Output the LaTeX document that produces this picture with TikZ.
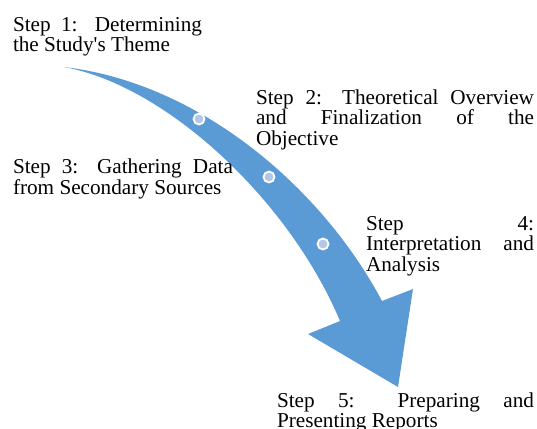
\documentclass[tikz,border=0pt]{standalone}
\usepackage{fontspec}
\newfontfamily\stepfont{Liberation Serif}[Ligatures=TeXOff]
\definecolor{arrowblue}{HTML}{5B9BD5}
\definecolor{dotfill}{HTML}{B4C7E7}
\tikzset{
  steptext/.style={anchor=base west, inner sep=0pt, outer sep=0pt, font=\stepfont\fontsize{21.2}{20.7}\selectfont},
  stepdot/.style={circle, fill=dotfill, draw=white, line width=1.8pt, minimum size=11pt, inner sep=0pt},
}
\newcommand{\jline}[2]{\makebox[#1][s]{#2}}
\begin{document}
\begin{tikzpicture}[x=1pt,y=-1pt]
\useasboundingbox (0,0) rectangle (537,428);
% arrow shape
\coordinate (tail) at (64,67);
\coordinate (nr) at (382,301);
\coordinate (br) at (413,289);
\coordinate (tip) at (398,387);
\coordinate (bl) at (308,334);
\coordinate (nl) at (340,321);
\fill[arrowblue] (tail) .. controls (200,83) and (322,188) .. (nr)
  -- (br) -- (tip) -- (bl) -- (nl)
  .. controls (290,202) and (168,86) .. (tail) -- cycle;
% dots
\node[stepdot] (d1) at (199,119) {};
\node[stepdot] (d2) at (269,177) {};
\node[stepdot] (d3) at (323,244) {};
% texts
\node[steptext] (s1) at (13,31) {\parbox[t]{189pt}{\jline{189pt}{Step 1: Determining}\\the Study's Theme}};
\node[steptext] (s2) at (256,104) {\parbox[t]{278pt}{\jline{278pt}{Step 2: Theoretical Overview}\\\jline{278pt}{and Finalization of the}\\Objective}};
\node[steptext] (s3) at (13,173.3) {\parbox[t]{220pt}{\jline{220pt}{Step 3: Gathering Data}\\from Secondary Sources}};
\node[steptext] (s4) at (366,230) {\parbox[t]{168pt}{\jline{168pt}{Step 4:}\\\jline{168pt}{Interpretation and}\\Analysis}};
\node[steptext] (s5) at (277,407) {\parbox[t]{257pt}{\jline{257pt}{Step 5: Preparing and}\\Presenting Reports}};
\end{tikzpicture}
\end{document}
